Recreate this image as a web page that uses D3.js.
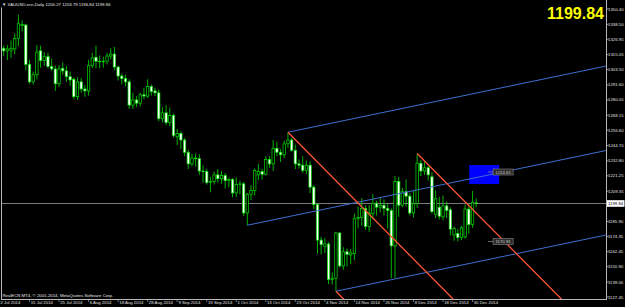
<!DOCTYPE html>
<html>
<head>
<meta charset="utf-8">
<script src="https://cdn.jsdelivr.net/npm/d3@7"></script>
<style>
html, body { margin: 0; padding: 0; background: #000; overflow: hidden; }
svg { display: block; }
text { font-family: "Liberation Sans", Arial, sans-serif; }
</style>
</head>
<body>
<svg id="chart" width="625" height="307"></svg>
<script>
// daily bars, XAUUSD Jul - Dec 2014
const barDates = [
  "2014-07-01","2014-07-02","2014-07-03","2014-07-04","2014-07-07","2014-07-08","2014-07-09","2014-07-10","2014-07-11",
  "2014-07-14","2014-07-15","2014-07-16","2014-07-17","2014-07-18","2014-07-21","2014-07-22","2014-07-23","2014-07-24","2014-07-25",
  "2014-07-28","2014-07-29","2014-07-30","2014-07-31","2014-08-01","2014-08-04","2014-08-05","2014-08-06","2014-08-07","2014-08-08",
  "2014-08-11","2014-08-12","2014-08-13","2014-08-14","2014-08-15","2014-08-18","2014-08-19","2014-08-20","2014-08-21","2014-08-22",
  "2014-08-25","2014-08-26","2014-08-27","2014-08-28","2014-08-29","2014-09-01","2014-09-02","2014-09-03","2014-09-04","2014-09-05",
  "2014-09-08","2014-09-09","2014-09-10","2014-09-11","2014-09-12","2014-09-15","2014-09-16","2014-09-17","2014-09-18","2014-09-19",
  "2014-09-22","2014-09-23","2014-09-24","2014-09-25","2014-09-26","2014-09-29","2014-09-30","2014-10-01","2014-10-02","2014-10-03",
  "2014-10-06","2014-10-07","2014-10-08","2014-10-09","2014-10-10","2014-10-13","2014-10-14","2014-10-15","2014-10-16","2014-10-17",
  "2014-10-20","2014-10-21","2014-10-22","2014-10-23","2014-10-24","2014-10-27","2014-10-28","2014-10-29","2014-10-30","2014-10-31",
  "2014-11-03","2014-11-04","2014-11-05","2014-11-06","2014-11-07","2014-11-10","2014-11-11","2014-11-12","2014-11-13","2014-11-14",
  "2014-11-17","2014-11-18","2014-11-19","2014-11-20","2014-11-21","2014-11-24","2014-11-25","2014-11-26","2014-11-27","2014-11-28",
  "2014-12-01","2014-12-02","2014-12-03","2014-12-04","2014-12-05","2014-12-08","2014-12-09","2014-12-10","2014-12-11","2014-12-12",
  "2014-12-15","2014-12-16","2014-12-17","2014-12-18","2014-12-19","2014-12-22","2014-12-23","2014-12-24","2014-12-25","2014-12-26",
  "2014-12-29","2014-12-30","2014-12-31"
];

const opens = [
  1322.5,1326.4,1326.0,1320.0,1318.0,1318.5,1319.5,1327.5,1337.5,
  1338.0,1307.5,1294.0,1299.5,1318.0,1310.5,1313.5,1306.0,1304.0,1292.5,
  1304.5,1302.5,1298.0,1296.0,1282.5,1294.0,1288.5,1287.0,1306.5,1313.0,
  1310.0,1309.5,1310.0,1314.0,1315.5,1305.5,1298.5,1296.5,1294.0,1276.0,
  1280.0,1277.5,1284.0,1283.0,1290.5,1287.0,1285.5,1265.5,1270.0,1262.5,
  1268.0,1251.5,1254.0,1249.0,1239.5,1230.5,1235.0,1234.5,1225.0,1224.5,
  1216.0,1217.0,1222.0,1219.0,1221.5,1217.5,1218.5,1208.0,1214.5,1215.0,
  1192.5,1207.0,1210.0,1222.0,1224.5,1222.5,1234.0,1230.5,1242.5,1239.5,
  1237.5,1246.0,1249.0,1241.0,1230.5,1229.5,1225.5,1229.5,1212.5,1199.0,
  1171.5,1166.5,1168.5,1141.0,1142.0,1177.0,1151.5,1162.5,1160.0,1161.0,
  1188.0,1189.0,1196.0,1182.0,1192.0,1200.0,1197.0,1198.5,1196.0,1194.5,
  1167.0,1217.0,1198.5,1209.0,1205.5,1192.5,1200.0,1231.0,1225.0,1227.5,
  1220.5,1191.5,1197.0,1189.5,1198.0,1195.0,1175.5,1176.5,1173.5,1174.0,
  1195.5,1183.5,1200.27
];
const highs = [
  1332.0,1331.0,1328.5,1322.0,1322.5,1326.0,1331.5,1346.0,1341.5,
  1339.0,1311.0,1302.0,1322.5,1322.0,1317.0,1316.5,1312.0,1306.5,1307.0,
  1309.0,1306.5,1302.0,1297.5,1297.5,1297.0,1291.5,1311.0,1316.5,1322.0,
  1314.5,1313.5,1316.5,1320.0,1321.0,1306.5,1300.5,1299.5,1296.0,1285.5,
  1283.0,1285.5,1289.5,1296.0,1292.0,1289.5,1288.0,1274.5,1276.0,1274.0,
  1269.5,1257.5,1255.5,1250.5,1241.5,1238.5,1238.5,1238.0,1229.5,1226.5,
  1220.5,1224.5,1226.5,1225.0,1223.5,1220.0,1219.5,1220.0,1217.5,1216.5,
  1208.0,1214.0,1227.0,1230.5,1226.5,1236.5,1236.5,1249.0,1247.5,1242.0,
  1248.5,1255.0,1250.5,1245.5,1234.0,1236.5,1233.0,1232.5,1214.0,1200.0,
  1174.0,1173.0,1170.0,1146.5,1178.0,1177.5,1166.0,1165.0,1164.5,1192.0,
  1197.5,1204.0,1198.5,1198.5,1207.0,1202.0,1204.5,1203.0,1200.0,1196.0,
  1221.0,1220.5,1212.0,1218.5,1208.0,1210.0,1238.6,1233.5,1233.0,1229.0,
  1224.0,1210.0,1205.0,1206.0,1201.5,1197.0,1182.0,1180.0,1182.5,1199.0,
  1199.5,1209.5,1203.79
];
const lows = [
  1314.6,1321.5,1311.1,1314.0,1311.0,1312.5,1315.5,1321.5,1333.0,
  1303.0,1292.5,1292.0,1296.0,1305.0,1306.5,1304.5,1302.5,1287.0,1290.0,
  1299.5,1294.0,1291.0,1280.5,1280.0,1285.5,1282.5,1283.5,1304.5,1304.5,
  1304.5,1305.0,1307.5,1311.5,1303.0,1295.0,1292.0,1290.5,1273.0,1273.0,
  1274.5,1275.0,1280.5,1281.5,1283.5,1283.0,1263.5,1262.5,1260.5,1259.5,
  1251.0,1245.0,1242.0,1236.5,1226.5,1228.5,1228.5,1222.0,1216.0,1214.5,
  1208.5,1214.5,1216.0,1215.0,1211.5,1212.5,1204.5,1205.0,1207.0,1190.0,
  1183.0,1202.5,1206.0,1218.0,1218.5,1221.5,1227.5,1225.0,1236.5,1232.0,
  1235.0,1243.0,1240.0,1226.5,1227.0,1223.5,1222.5,1208.0,1195.5,1161.0,
  1160.5,1161.5,1137.5,1137.0,1131.9,1150.5,1148.5,1151.0,1153.0,1156.0,
  1180.5,1182.5,1179.5,1178.0,1187.5,1190.5,1193.0,1190.5,1180.5,1142.0,
  1142.0,1189.5,1197.0,1197.5,1190.5,1189.0,1196.5,1221.0,1222.0,1217.5,
  1192.0,1188.5,1187.5,1187.0,1188.5,1175.0,1171.0,1170.5,1171.5,1172.5,
  1176.5,1181.0,1196.84
];
const closes = [
  1326.4,1325.9,1319.9,1318.0,1319.5,1320.0,1327.5,1339.0,1338.5,
  1307.5,1294.0,1299.5,1317.0,1310.5,1313.5,1306.0,1304.0,1292.5,1304.0,
  1302.5,1298.0,1295.5,1282.5,1294.0,1288.5,1287.0,1306.5,1312.5,1310.0,
  1309.5,1310.0,1314.0,1315.5,1305.5,1298.5,1296.5,1294.0,1276.0,1280.0,
  1277.5,1284.0,1283.0,1290.5,1286.5,1285.5,1265.5,1270.0,1262.5,1268.0,
  1252.5,1254.0,1249.0,1239.5,1230.5,1235.0,1234.5,1225.0,1224.5,1216.0,
  1217.0,1222.0,1219.0,1221.5,1217.5,1218.5,1208.0,1214.5,1215.0,1192.5,
  1207.0,1210.0,1225.5,1224.5,1222.5,1234.0,1230.5,1242.5,1239.5,1237.5,
  1246.0,1249.0,1241.0,1230.5,1229.5,1225.5,1229.5,1212.5,1199.0,1171.5,
  1168.0,1168.5,1141.0,1142.0,1177.0,1151.5,1162.5,1160.5,1161.5,1188.0,
  1189.0,1196.0,1182.0,1192.5,1200.0,1197.0,1198.5,1196.0,1194.5,1167.0,
  1217.0,1198.5,1209.0,1205.5,1192.5,1200.0,1231.0,1225.0,1227.5,1222.0,
  1193.5,1203.5,1190.0,1198.0,1194.5,1180.0,1180.5,1173.5,1181.0,1195.5,
  1183.5,1200.5,1199.84
];

const priceTicks = ["1350.40","1338.50","1326.95","1315.05","1303.50","1291.60","1280.05","1268.15","1256.60","1244.70",
                    "1232.80","1221.25","1209.35","1185.90","1174.35","1162.45","1150.90","1139.00","1127.45"];

const dateTicks = ["2014-07-02","2014-07-15","2014-07-25","2014-08-06","2014-08-18","2014-08-28","2014-09-09","2014-09-19",
                   "2014-10-01","2014-10-13","2014-10-23","2014-11-04","2014-11-14","2014-11-26","2014-12-08","2014-12-18","2014-12-30"];

const symbol = "XAUUSD.ecn,Daily";
const lastPrice = 1199.84;

// objects on the chart: [startBar, startPrice, endBar, endPrice]
const channelLines = [
  [80, 1255.0, 166.1, 1306.2],
  [69, 1183.0, 166.1, 1240.8],
  [93, 1131.9, 166.1, 1175.4]
];
const fallLines = [
  [80, 1255.0, 125, 1125.1],
  [115, 1238.6, 156, 1120.3],
  [93, 1131.9, 96, 1123.2]
];
const boxObj = [129.1, 1229.6, 137.2, 1214.9];
const priceMarks = [["1224.65", 1224.2], ["1170.91", 1170.4]];

/* ------------------------------------------------------------------ */

const W = 625, H = 307;
const plot = { left: 2, right: 606, top: 0, bottom: 299 };
const barStep = 3.692;

const bars = barDates.map((d, i) => ({ date: d, o: opens[i], h: highs[i], l: lows[i], c: closes[i], i: i }));

const x = d3.scaleLinear()
  .domain([10, 130])
  .range([29.5, 29.5 + 120 * barStep]);
const y = d3.scaleLinear()
  .domain([1127.45, 1350.40])
  .range([297, 9]);

const svg = d3.select("#chart");
svg.append("rect").attr("width", W).attr("height", H).attr("fill", "#000");

svg.append("defs").append("clipPath").attr("id", "plotclip")
  .append("rect")
  .attr("x", plot.left).attr("y", plot.top)
  .attr("width", plot.right - plot.left).attr("height", plot.bottom - plot.top);

const g = svg.append("g").attr("clip-path", "url(#plotclip)");

// blue rectangle object
g.append("rect")
  .attr("x", x(boxObj[0])).attr("y", y(boxObj[1]))
  .attr("width", x(boxObj[2]) - x(boxObj[0]))
  .attr("height", y(boxObj[3]) - y(boxObj[1]))
  .attr("fill", "#0000ff");

// bid line
g.append("line")
  .attr("x1", plot.left).attr("x2", plot.right)
  .attr("y1", y(lastPrice)).attr("y2", y(lastPrice))
  .attr("stroke", "#7c7c7c").attr("stroke-width", 1);

// candles
const bodyW = 2.4;
const cg = g.append("g");
cg.selectAll(".wick")
  .data(bars)
  .enter()
  .append("line")
  .attr("class", "wick")
  .attr("x1", d => x(d.i)).attr("x2", d => x(d.i))
  .attr("y1", d => y(d.h)).attr("y2", d => y(d.l))
  .attr("stroke", "#00e000").attr("stroke-width", 0.8);

cg.selectAll(".body")
  .data(bars)
  .enter()
  .append("rect")
  .attr("class", "body")
  .attr("x", d => x(d.i) - bodyW / 2)
  .attr("y", d => y(Math.max(d.o, d.c)))
  .attr("width", bodyW)
  .attr("height", d => Math.max(0.6, Math.abs(y(d.o) - y(d.c))))
  .attr("fill", d => d.c >= d.o ? "#000" : "#fff")
  .attr("stroke", "#00e000")
  .attr("stroke-width", 0.7);

// trend lines
g.selectAll(".chan")
  .data(channelLines)
  .enter()
  .append("line")
  .attr("class", "chan")
  .attr("x1", d => x(d[0])).attr("y1", d => y(d[1]))
  .attr("x2", d => x(d[2])).attr("y2", d => y(d[3]))
  .attr("stroke", "#3f6fd0").attr("stroke-width", 1);

g.selectAll(".fall")
  .data(fallLines)
  .enter()
  .append("line")
  .attr("class", "fall")
  .attr("x1", d => x(d[0])).attr("y1", d => y(d[1]))
  .attr("x2", d => x(d[2])).attr("y2", d => y(d[3]))
  .attr("stroke", "#ff5533").attr("stroke-width", 1.3);

// small price marks next to the box
const pm = g.selectAll(".pmark").data(priceMarks).enter().append("g").attr("class", "pmark");
pm.append("line")
  .attr("x1", x(boxObj[2]) - 11).attr("x2", x(boxObj[2]) - 6)
  .attr("y1", d => y(d[1])).attr("y2", d => y(d[1]))
  .attr("stroke", "#8a8a8a").attr("stroke-width", 0.8);
pm.append("rect")
  .attr("x", x(boxObj[2]) - 6).attr("y", d => y(d[1]) - 3)
  .attr("width", 20).attr("height", 6)
  .attr("fill", "#2a2a2a").attr("stroke", "#8a8a8a").attr("stroke-width", 0.6);
pm.append("text")
  .attr("x", x(boxObj[2]) + 4).attr("y", d => y(d[1]) + 1.5)
  .attr("text-anchor", "middle")
  .attr("font-size", 4.3).attr("fill", "#d0d0d0")
  .text(d => d[0]);

// frame
const frameCol = "#b8b8b8";
svg.append("line").attr("x1", plot.left - 0.5).attr("x2", plot.left - 0.5)
  .attr("y1", 7.5).attr("y2", plot.bottom).attr("stroke", frameCol).attr("stroke-width", 1);
svg.append("line").attr("x1", plot.right + 0.5).attr("x2", plot.right + 0.5)
  .attr("y1", 0).attr("y2", plot.bottom).attr("stroke", frameCol).attr("stroke-width", 1);
svg.append("line").attr("x1", plot.left - 1).attr("x2", plot.right + 1)
  .attr("y1", plot.bottom + 0.5).attr("y2", plot.bottom + 0.5).attr("stroke", frameCol).attr("stroke-width", 1);

// price axis
const pa = svg.append("g");
pa.selectAll("line")
  .data(priceTicks)
  .enter()
  .append("line")
  .attr("x1", plot.right + 0.5).attr("x2", plot.right + 2.5)
  .attr("y1", d => y(+d)).attr("y2", d => y(+d))
  .attr("stroke", frameCol).attr("stroke-width", 0.8);
pa.selectAll("text")
  .data(priceTicks)
  .enter()
  .append("text")
  .attr("x", plot.right + 2).attr("y", d => y(+d) + 1.5)
  .attr("font-size", 4.3).attr("fill", "#e0e0e0")
  .text(d => d);

// current price box on the axis
pa.append("rect")
  .attr("x", plot.right + 1).attr("y", y(lastPrice) - 3.3)
  .attr("width", 17.5).attr("height", 6.6)
  .attr("fill", "#fff");
pa.append("text")
  .attr("x", plot.right + 2).attr("y", y(lastPrice) + 1.6)
  .attr("font-size", 4.3).attr("fill", "#000")
  .text(lastPrice.toFixed(2));

// date axis
const fmt = d3.timeFormat("%-d %b %Y");
const parse = d3.timeParse("%Y-%m-%d");
const da = svg.append("g");
dateTicks.forEach((d, k) => {
  const px = x(barDates.indexOf(d));
  const tx = Math.max(px, 0);
  if (px > plot.left) {
    da.append("line")
      .attr("x1", px).attr("x2", px)
      .attr("y1", plot.bottom + 0.5).attr("y2", plot.bottom + 3)
      .attr("stroke", frameCol).attr("stroke-width", 0.6);
  }
  da.append("text")
    .attr("x", k === 0 ? 0.5 : tx + 1.2).attr("y", 304)
    .attr("font-size", 4.3).attr("fill", "#e0e0e0")
    .text(fmt(parse(d)));
});

// header and footer text
const last = bars[bars.length - 1];
svg.append("text")
  .attr("x", 2).attr("y", 6)
  .attr("font-size", 4.3).attr("fill", "#e8e8e8")
  .text("\u25BC " + symbol + "  " + [last.o, last.h, last.l, last.c].map(v => v.toFixed(2)).join(" "));

svg.append("text")
  .attr("x", 2.5).attr("y", 297)
  .attr("font-size", 4.3).attr("fill", "#e8e8e8")
  .text("RealECN MT4, \u00A9 2001-2014, MetaQuotes Software Corp.");

// big price readout
svg.append("text")
  .attr("x", 604).attr("y", 18.6)
  .attr("text-anchor", "end")
  .attr("font-size", 16).attr("font-weight", "bold")
  .attr("fill", "#ffff00")
  .text(lastPrice.toFixed(2));
</script>
</body>
</html>
